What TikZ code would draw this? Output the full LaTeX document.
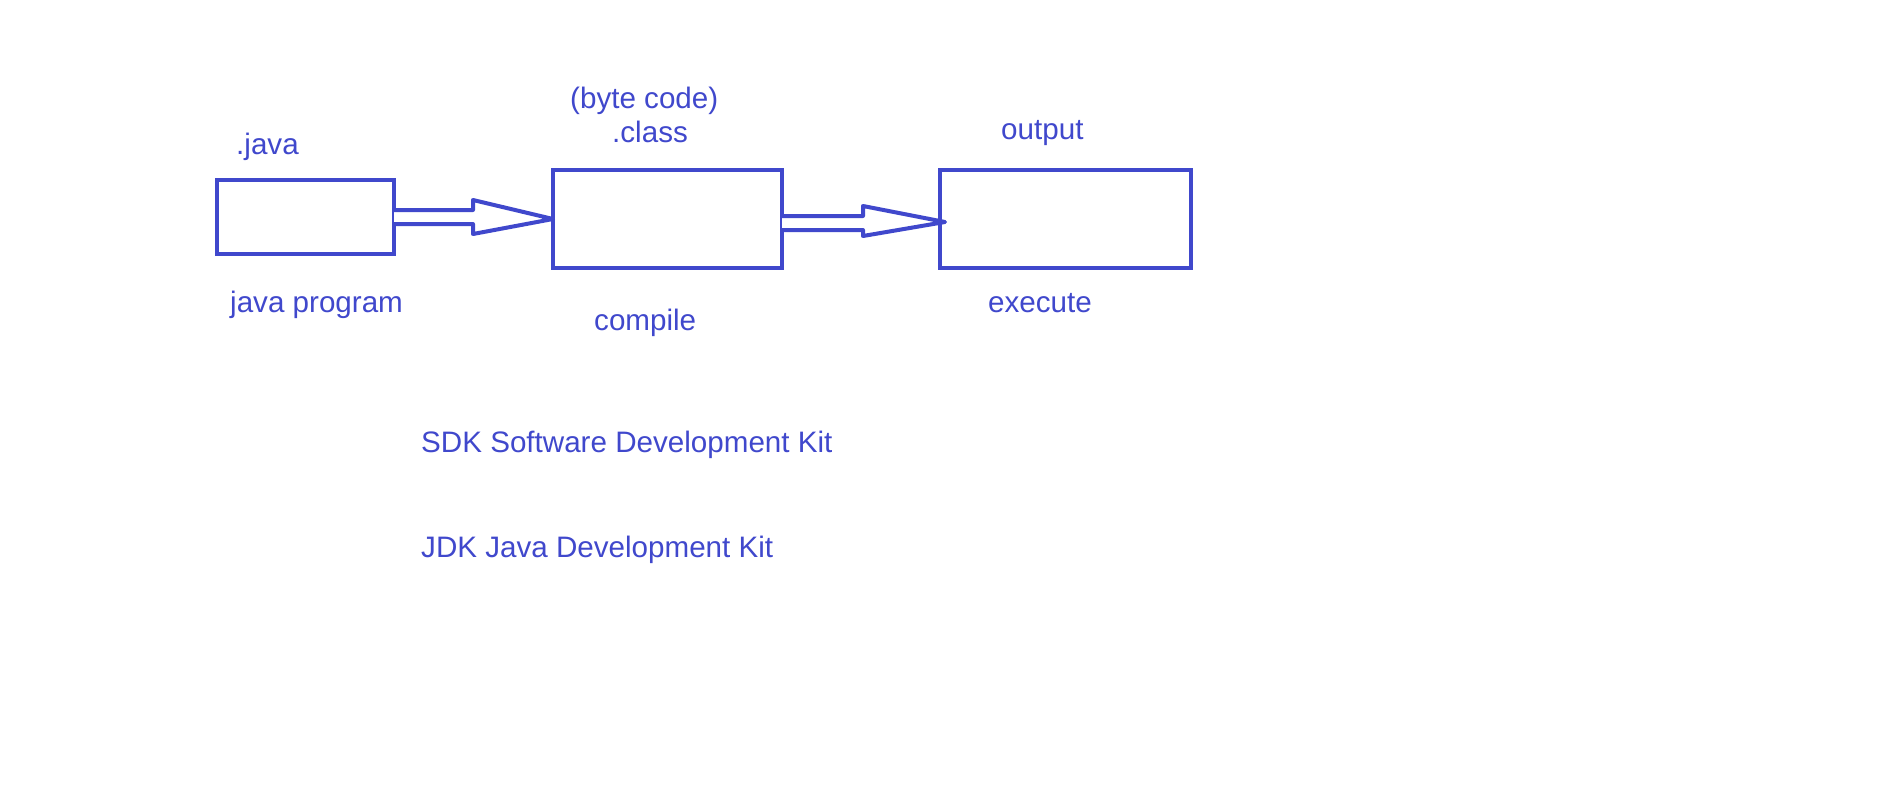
\documentclass[tikz,border=0pt]{standalone}
\usepackage{fontspec}
\setmainfont{Liberation Sans}
\usepackage{xcolor}
\usepackage{tikz}
\usetikzlibrary{positioning,calc}
\definecolor{penblue}{HTML}{4048CC}

\begin{document}
\begin{tikzpicture}[
    x=1pt, y=-1pt,
    box/.style={rectangle, draw=penblue, line width=4pt, outer sep=0pt, inner sep=0pt},
    label/.style={text=penblue, font=\fontsize{29.6}{35}\selectfont, anchor=base west, inner sep=0pt},
    flow/.style={draw=penblue, line width=4pt, line join=round, fill=white}
]
    \useasboundingbox (0,0) rectangle (1877,787);

    % Boxes
    \node[box, minimum width=177pt, minimum height=74pt] (src) at (305.5,217) {};
    \node[box, minimum width=229pt, minimum height=98pt] (cls) at (667.5,219) {};
    \node[box, minimum width=251pt, minimum height=98pt] (out) at (1065.5,219) {};

    % Hollow arrows
    \draw[flow] ($(src.east)+(0,-7)$) -- ($(src.east)+(79,-7)$) -- ($(src.east)+(79,-17)$)
        -- (cls.west) -- ($(src.east)+(79,17)$) -- ($(src.east)+(79,7)$) -- ($(src.east)+(0,7)$);
    \draw[flow] ($(cls.east)+(0,-3)$) -- ($(cls.east)+(81,-3)$) -- ($(cls.east)+(81,-13)$)
        -- ($(out.west)+(5,3)$) -- ($(cls.east)+(81,17)$) -- ($(cls.east)+(81,11)$) -- ($(cls.east)+(0,11)$);

    % Labels
    \node[label] (ljava) at (236,154) {.java};
    \node[label] (lbyte) at (570,108) {(byte code)};
    \node[label] (lclass) at (612,142) {.class};
    \node[label] (lout) at (1001,139) {output};
    \node[label] (lprog) at (230,312) {java program};
    \node[label] (lcomp) at (594,330) {compile};
    \node[label] (lexec) at (988,312) {execute};
    \node[label] (lsdk) at (421,452) {SDK Software Development Kit};
    \node[label] (ljdk) at (421,557) {JDK Java Development Kit};
\end{tikzpicture}
\end{document}
